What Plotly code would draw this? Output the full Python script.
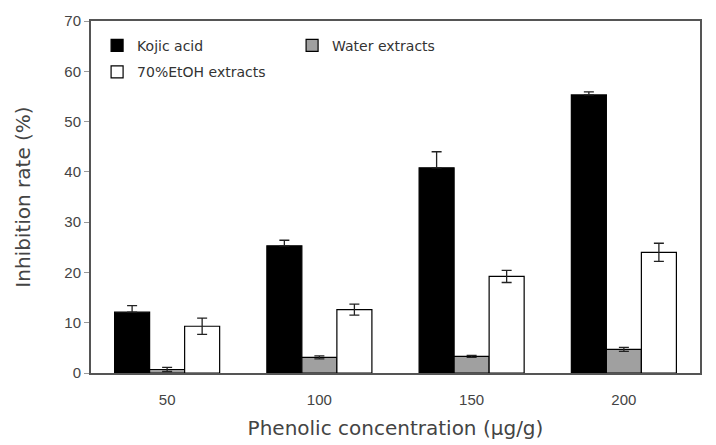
import plotly.graph_objects as go

categories = ["50", "100", "150", "200"]
kojic = [12.1, 25.3, 40.8, 55.3]
kojic_err = [1.3, 1.1, 3.2, 0.6]
water = [0.7, 3.1, 3.3, 4.7]
water_err = [0.4, 0.3, 0.2, 0.4]
etoh = [9.3, 12.6, 19.2, 24.0]
etoh_err = [1.6, 1.1, 1.2, 1.8]

FAM = "DejaVu Sans, Liberation Sans, sans-serif"
TICKFAM = "Liberation Sans, Arial, sans-serif"
font = dict(family=FAM, color="#333333")

def bar(name, y, err, color, legend, up_only=False):
    ey = dict(type="data", array=err, visible=True, color="#222222",
              thickness=1.3, width=5)
    if up_only:
        ey.update(symmetric=False, arrayminus=[0] * len(err))
    return go.Bar(
        name=name, x=categories, y=y,
        marker=dict(color=color, line=dict(color="#000000", width=1.2)),
        error_y=ey, legend=legend,
    )

fig = go.Figure()
fig.add_trace(bar("Kojic acid", kojic, kojic_err, "#000000", "legend", up_only=True))
fig.add_trace(bar("Water extracts", water, water_err, "#a0a0a0", "legend"))
fig.add_trace(bar("70%EtOH extracts", etoh, etoh_err, "#ffffff", "legend2"))

legend_common = dict(
    orientation="h", xanchor="left", yanchor="top", bgcolor="rgba(0,0,0,0)",
    font=dict(size=14, family=FAM, color="#333333"),
    itemwidth=30, tracegroupgap=0,
)

fig.update_layout(
    width=716, height=445,
    margin=dict(l=91, r=16, t=21, b=72),
    paper_bgcolor="white", plot_bgcolor="white",
    barmode="group", bargap=0.31, bargroupgap=0,
    font=font,
    showlegend=True,
    legend=dict(x=0.01, y=0.975, entrywidth=150, **legend_common),
    legend2=dict(x=0.01, y=0.90, **legend_common),
    xaxis=dict(
        automargin=False,
        showline=True, linecolor="#555555", linewidth=2, mirror=True,
        ticks="", ticklabelstandoff=12,
        tickfont=dict(size=15, family=TICKFAM, color="#444444"),
        title=dict(text="Phenolic concentration (μg/g)",
                   font=dict(size=20, family=FAM, color="#444444"), standoff=14),
    ),
    yaxis=dict(
        automargin=False,
        range=[0, 70], dtick=10,
        showline=True, linecolor="#555555", linewidth=2, mirror=True,
        showgrid=False, zeroline=False,
        ticks="outside", ticklen=5, tickcolor="#999999",
        tickfont=dict(size=15, family=TICKFAM, color="#444444"),
        title=dict(text="Inhibition rate (%)",
                   font=dict(size=20, family=FAM, color="#444444"), standoff=28),
    ),
)

fig.write_html("out.html")
